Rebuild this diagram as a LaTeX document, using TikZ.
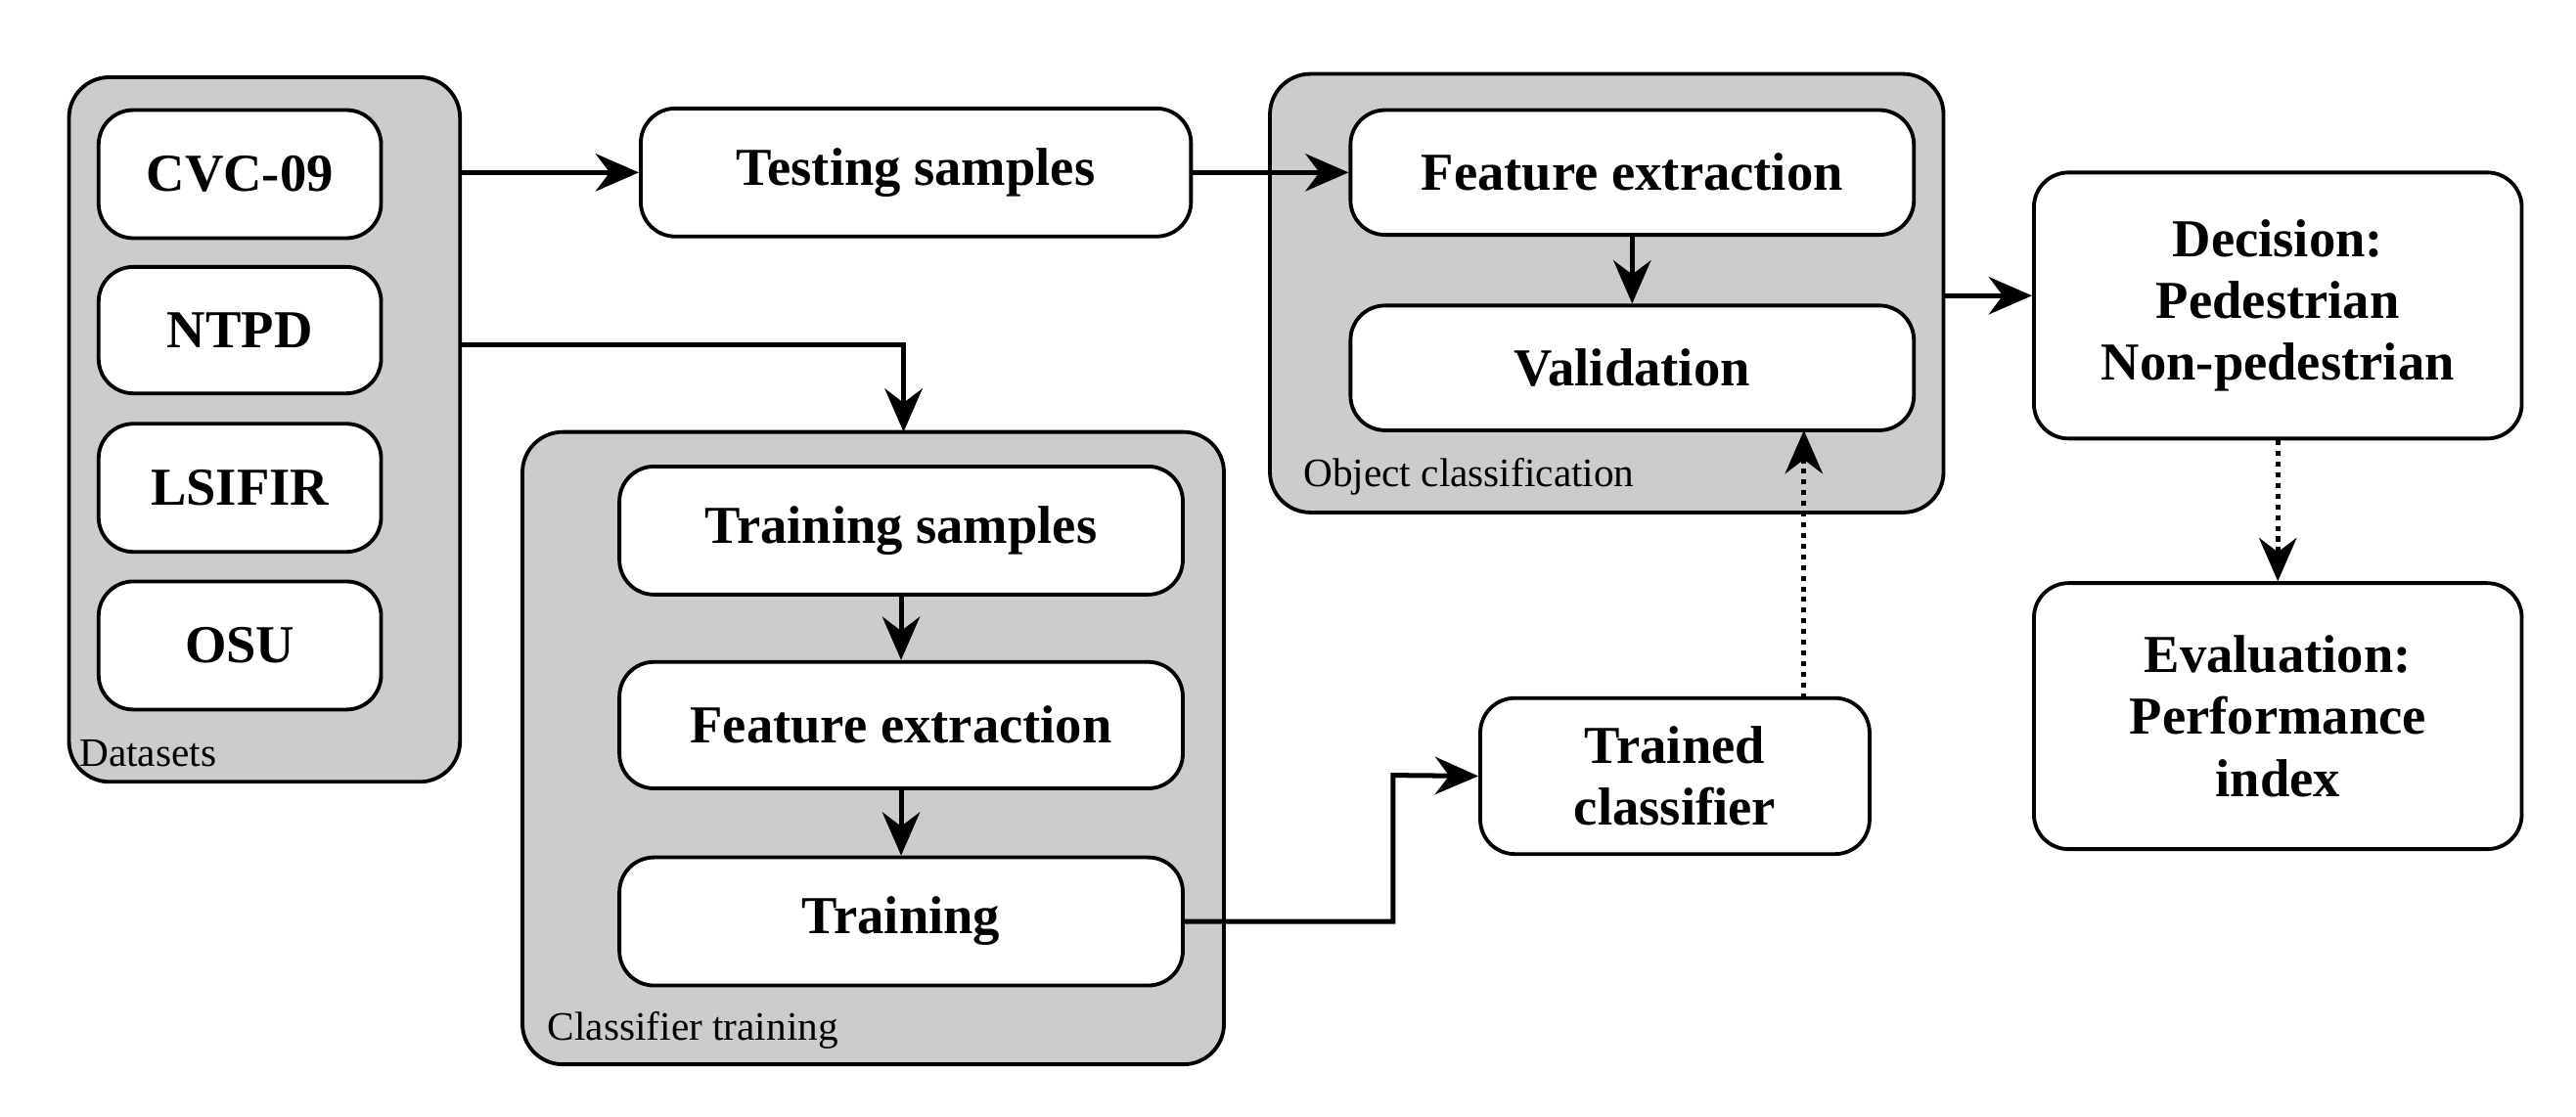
\documentclass[tikz,border=0pt]{standalone}
\usepackage{fontspec}
\setmainfont{Liberation Serif}
\usetikzlibrary{arrows.meta}
\begin{document}
\begin{tikzpicture}[x=0.02cm,y=-0.02cm,
 grp/.style={draw,line width=1.3pt,fill=gray!40,rounded corners=14pt},
 box/.style={draw,line width=1.3pt,fill=white,rounded corners=12pt,align=center,font=\fontsize{18.5}{21.5}\selectfont\bfseries},
 lbl/.style={anchor=south west,inner sep=0pt,font=\fontsize{14}{16}\selectfont},
 arr/.style={line width=1.7pt,-{Stealth[length=15pt,width=13pt]}},
 darr/.style={arr,dotted}]
\useasboundingbox (0,0) rectangle (1568,680);
% groups
\path[grp] (42,47) rectangle (280,476);
\node[lbl] (dl) at (48,467) {Datasets};
\path[grp] (773,45) rectangle (1183,312);
\node[lbl] (ol) at (793,302) {Object classification};
\path[grp] (318,263) rectangle (745,648);
\node[lbl] (cl) at (333,639) {Classifier training};
\coordinate (ds) at (280,105);
\coordinate (ds2) at (280,210);
\coordinate (ct) at (550,263);
\coordinate (ocr) at (1183,180);
% nodes
\node[box,minimum width=3.44cm,minimum height=1.56cm] (cvc) at (146,106) {CVC-09};
\node[box,minimum width=3.44cm,minimum height=1.54cm] (ntpd) at (146,201) {NTPD};
\node[box,minimum width=3.44cm,minimum height=1.56cm] (lsi) at (146,297) {LSIFIR};
\node[box,minimum width=3.44cm,minimum height=1.56cm] (osu) at (146,393) {OSU};
\node[box,minimum width=6.7cm,minimum height=1.56cm] (test) at (557.5,105) {Testing samples};
\node[box,minimum width=6.86cm,minimum height=1.52cm] (fe1) at (993.5,105) {Feature extraction};
\node[box,minimum width=6.86cm,minimum height=1.52cm] (val) at (993.5,224) {Validation};
\node[box,minimum width=5.94cm,minimum height=3.24cm] (dec) at (1386.5,186) {Decision:\\Pedestrian\\Non-pedestrian};
\node[box,minimum width=5.94cm,minimum height=3.24cm] (eva) at (1386.5,436) {Evaluation:\\Performance\\index};
\node[box,minimum width=6.86cm,minimum height=1.56cm] (ts) at (548.5,323) {Training samples};
\node[box,minimum width=6.86cm,minimum height=1.54cm] (fe2) at (548.5,441.5) {Feature extraction};
\node[box,minimum width=6.86cm,minimum height=1.56cm] (tr) at (548.5,561) {Training};
\node[box,minimum width=4.74cm,minimum height=1.9cm] (tc) at (1019.5,472.5) {Trained\\classifier};
% arrows
\draw[arr] (ds) -- (test.west);
\draw[arr] (test.east) -- (fe1.west);
\draw[arr] (ds2) -| (ct);
\draw[arr] (fe1.south) -- (val.north);
\draw[arr] (ts.south) -- (fe2.north);
\draw[arr] (fe2.south) -- (tr.north);
\draw[arr] (ocr) -- (dec.west |- ocr);
\draw[darr] (dec.south) -- (eva.north);
\draw[arr] (tr.east) -- (848,561) -- (848,472) -- (tc.west);
\draw[darr] (1098,425) -- (1098,262);
\end{tikzpicture}
\end{document}
